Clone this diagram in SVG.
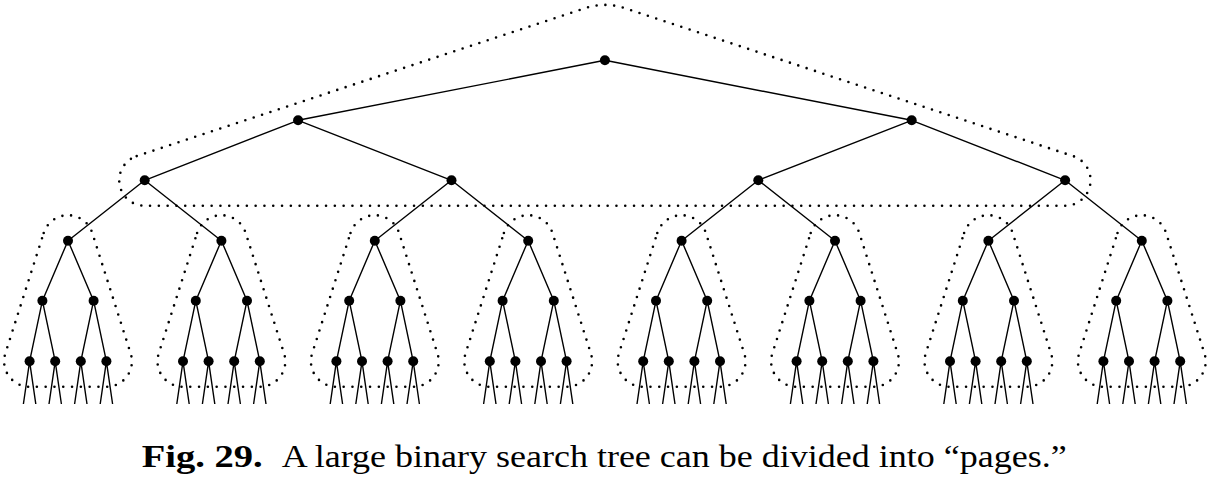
<svg xmlns="http://www.w3.org/2000/svg" xmlns:xlink="http://www.w3.org/1999/xlink" width="1209" height="477" viewBox="0 0 1209 477">
<style>
.e{stroke:#000;stroke-width:1.4;fill:none}
.pg{fill:none;stroke:#000;stroke-width:2.6;stroke-linecap:round;stroke-dasharray:0 8.8}
.nd circle{fill:#000}
.cap{font-family:"Liberation Serif","Times New Roman",serif;font-size:31px;fill:#000}
</style>
<defs>
<g id="sub" class="e">
<path d="M0,240.7L-25.6,300.7M0,240.7L25.6,300.7M-25.6,300.7L-38.4,361.3M-25.6,300.7L-12.8,361.3M25.6,300.7L12.8,361.3M25.6,300.7L38.4,361.3M-38.4,361.3L-44.6,404M-38.4,361.3L-32.2,404M-12.8,361.3L-19,404M-12.8,361.3L-6.6,404M12.8,361.3L6.6,404M12.8,361.3L19,404M38.4,361.3L32.2,404M38.4,361.3L44.6,404"/>
</g>
<path id="page" d="M-24.3,233A25.5,25.5 0 0 1 24.3,233L62.7,353.6A25.5,25.5 0 0 1 38.4,386.8L-38.4,386.8A25.5,25.5 0 0 1 -62.7,353.6Z"/>
</defs>
<rect width="1209" height="477" fill="#fff"/>
<g id="pages">
<path class="pg" d="M136.7,156.1L584.9,8.2Q604.9,1.6 624.9,8.2L1073.1,156.1A25.5,25.5 0 0 1 1065.1,205.8L144.7,205.8A25.5,25.5 0 0 1 136.7,156.1Z"/>
<use xlink:href="#page" href="#page" class="pg" x="68"/>
<use xlink:href="#page" href="#page" class="pg" x="221.4"/>
<use xlink:href="#page" href="#page" class="pg" x="374.8"/>
<use xlink:href="#page" href="#page" class="pg" x="528.2"/>
<use xlink:href="#page" href="#page" class="pg" x="681.6"/>
<use xlink:href="#page" href="#page" class="pg" x="835"/>
<use xlink:href="#page" href="#page" class="pg" x="988.4"/>
<use xlink:href="#page" href="#page" class="pg" x="1141.8"/>
</g>
<g id="connectors">
<path class="e" d="M604.9,60.3L298.1,120.3M604.9,60.3L911.7,120.3M298.1,120.3L144.7,180.3M298.1,120.3L451.5,180.3M911.7,120.3L758.3,180.3M911.7,120.3L1065.1,180.3M144.7,180.3L68,240.7M144.7,180.3L221.4,240.7M451.5,180.3L374.8,240.7M451.5,180.3L528.2,240.7M758.3,180.3L681.6,240.7M758.3,180.3L835,240.7M1065.1,180.3L988.4,240.7M1065.1,180.3L1141.8,240.7"/>
<use xlink:href="#sub" href="#sub" x="68"/>
<use xlink:href="#sub" href="#sub" x="221.4"/>
<use xlink:href="#sub" href="#sub" x="374.8"/>
<use xlink:href="#sub" href="#sub" x="528.2"/>
<use xlink:href="#sub" href="#sub" x="681.6"/>
<use xlink:href="#sub" href="#sub" x="835"/>
<use xlink:href="#sub" href="#sub" x="988.4"/>
<use xlink:href="#sub" href="#sub" x="1141.8"/>
</g>
<g id="nodes" class="nd">
<g id="n0"><circle cx="604.9" cy="60.3" r="5"/></g>
<g id="n1a"><circle cx="298.1" cy="120.3" r="5"/></g>
<g id="n1b"><circle cx="911.7" cy="120.3" r="5"/></g>
<g id="n2a"><circle cx="144.7" cy="180.3" r="5"/></g>
<g id="n2b"><circle cx="451.5" cy="180.3" r="5"/></g>
<g id="n2c"><circle cx="758.3" cy="180.3" r="5"/></g>
<g id="n2d"><circle cx="1065.1" cy="180.3" r="5"/></g>
<g id="n3-0"><circle cx="68" cy="240.7" r="5"/></g>
<g id="n3-1"><circle cx="221.4" cy="240.7" r="5"/></g>
<g id="n3-2"><circle cx="374.8" cy="240.7" r="5"/></g>
<g id="n3-3"><circle cx="528.2" cy="240.7" r="5"/></g>
<g id="n3-4"><circle cx="681.6" cy="240.7" r="5"/></g>
<g id="n3-5"><circle cx="835" cy="240.7" r="5"/></g>
<g id="n3-6"><circle cx="988.4" cy="240.7" r="5"/></g>
<g id="n3-7"><circle cx="1141.8" cy="240.7" r="5"/></g>
<g id="n4-0"><circle cx="42.4" cy="300.7" r="5"/></g>
<g id="n4-1"><circle cx="93.6" cy="300.7" r="5"/></g>
<g id="n4-2"><circle cx="195.8" cy="300.7" r="5"/></g>
<g id="n4-3"><circle cx="247" cy="300.7" r="5"/></g>
<g id="n4-4"><circle cx="349.2" cy="300.7" r="5"/></g>
<g id="n4-5"><circle cx="400.4" cy="300.7" r="5"/></g>
<g id="n4-6"><circle cx="502.6" cy="300.7" r="5"/></g>
<g id="n4-7"><circle cx="553.8" cy="300.7" r="5"/></g>
<g id="n4-8"><circle cx="656" cy="300.7" r="5"/></g>
<g id="n4-9"><circle cx="707.2" cy="300.7" r="5"/></g>
<g id="n4-10"><circle cx="809.4" cy="300.7" r="5"/></g>
<g id="n4-11"><circle cx="860.6" cy="300.7" r="5"/></g>
<g id="n4-12"><circle cx="962.8" cy="300.7" r="5"/></g>
<g id="n4-13"><circle cx="1014" cy="300.7" r="5"/></g>
<g id="n4-14"><circle cx="1116.2" cy="300.7" r="5"/></g>
<g id="n4-15"><circle cx="1167.4" cy="300.7" r="5"/></g>
<g id="n5-0"><circle cx="29.6" cy="361.3" r="5"/></g>
<g id="n5-1"><circle cx="55.2" cy="361.3" r="5"/></g>
<g id="n5-2"><circle cx="80.8" cy="361.3" r="5"/></g>
<g id="n5-3"><circle cx="106.4" cy="361.3" r="5"/></g>
<g id="n5-4"><circle cx="183" cy="361.3" r="5"/></g>
<g id="n5-5"><circle cx="208.6" cy="361.3" r="5"/></g>
<g id="n5-6"><circle cx="234.2" cy="361.3" r="5"/></g>
<g id="n5-7"><circle cx="259.8" cy="361.3" r="5"/></g>
<g id="n5-8"><circle cx="336.4" cy="361.3" r="5"/></g>
<g id="n5-9"><circle cx="362" cy="361.3" r="5"/></g>
<g id="n5-10"><circle cx="387.6" cy="361.3" r="5"/></g>
<g id="n5-11"><circle cx="413.2" cy="361.3" r="5"/></g>
<g id="n5-12"><circle cx="489.8" cy="361.3" r="5"/></g>
<g id="n5-13"><circle cx="515.4" cy="361.3" r="5"/></g>
<g id="n5-14"><circle cx="541" cy="361.3" r="5"/></g>
<g id="n5-15"><circle cx="566.6" cy="361.3" r="5"/></g>
<g id="n5-16"><circle cx="643.2" cy="361.3" r="5"/></g>
<g id="n5-17"><circle cx="668.8" cy="361.3" r="5"/></g>
<g id="n5-18"><circle cx="694.4" cy="361.3" r="5"/></g>
<g id="n5-19"><circle cx="720" cy="361.3" r="5"/></g>
<g id="n5-20"><circle cx="796.6" cy="361.3" r="5"/></g>
<g id="n5-21"><circle cx="822.2" cy="361.3" r="5"/></g>
<g id="n5-22"><circle cx="847.8" cy="361.3" r="5"/></g>
<g id="n5-23"><circle cx="873.4" cy="361.3" r="5"/></g>
<g id="n5-24"><circle cx="950" cy="361.3" r="5"/></g>
<g id="n5-25"><circle cx="975.6" cy="361.3" r="5"/></g>
<g id="n5-26"><circle cx="1001.2" cy="361.3" r="5"/></g>
<g id="n5-27"><circle cx="1026.8" cy="361.3" r="5"/></g>
<g id="n5-28"><circle cx="1103.4" cy="361.3" r="5"/></g>
<g id="n5-29"><circle cx="1129" cy="361.3" r="5"/></g>
<g id="n5-30"><circle cx="1154.6" cy="361.3" r="5"/></g>
<g id="n5-31"><circle cx="1180.2" cy="361.3" r="5"/></g>
</g>
<g id="caption">
<text class="cap" x="141.7" y="467" font-weight="bold" textLength="121" lengthAdjust="spacingAndGlyphs">Fig. 29.</text>
<text class="cap" x="281.7" y="467" textLength="785" lengthAdjust="spacingAndGlyphs">A large binary search tree can be divided into “pages.”</text>
</g>
</svg>
